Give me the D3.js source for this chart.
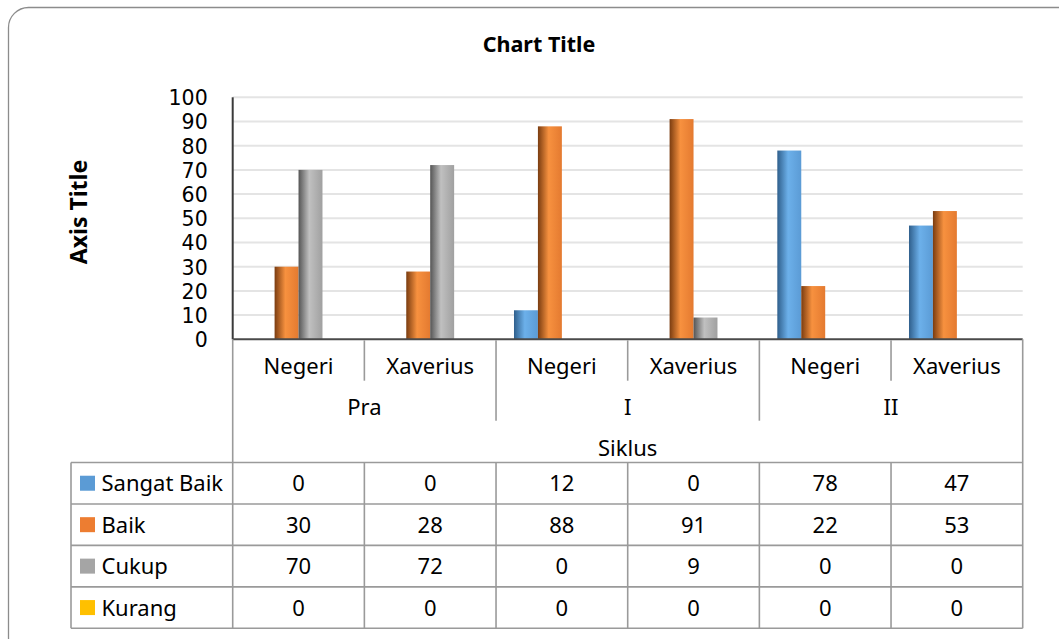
<!DOCTYPE html>
<html>
<head>
<meta charset="utf-8">
<script src="https://cdn.jsdelivr.net/npm/d3@7/dist/d3.min.js"></script>
<style>
  html, body { margin: 0; padding: 0; background: #fff; }
  svg { display: block; font-family: "Noto Sans", "Open Sans", sans-serif; }
</style>
</head>
<body>
<svg id="chart" width="1059" height="639"></svg>
<script>
// ---- data ----
const cycles = ["Pra", "I", "II"];
const schools = ["Negeri", "Xaverius"];
const seriesNames = ["Sangat Baik", "Baik", "Cukup", "Kurang"];
const sangatBaik = [0, 0, 12, 0, 78, 47];
const baik = [30, 28, 88, 91, 22, 53];
const cukup = [70, 72, 0, 9, 0, 0];
const kurang = [0, 0, 0, 0, 0, 0];
const yTicks = [0, 10, 20, 30, 40, 50, 60, 70, 80, 90, 100];
const chartTitle = "Chart Title";
const axisTitle = "Axis Title";
const axisGroupTitle = "Siklus";

(function () {
const seriesValues = [sangatBaik, baik, cukup, kurang];
const seriesColors = ["#5b9bd5", "#ed7d31", "#a5a5a5", "#ffc000"];
const gradStops = [
  ["#2f5f8c", "#6cb0ea", "#5b9bd5"],
  ["#7a3c10", "#f7913f", "#e47a30"],
  ["#555555", "#c0c0c0", "#a0a0a0"],
  ["#8a6500", "#ffd040", "#f0b400"]
];

const categories = [];
cycles.forEach(c => schools.forEach(s => categories.push({cycle: c, school: s, key: c + "|" + s})));

const svg = d3.select("#chart");
const defs = svg.append("defs");
gradStops.forEach((st, i) => {
  const g = defs.append("linearGradient").attr("id", "grad" + i)
    .attr("x1", "0%").attr("x2", "100%").attr("y1", "0%").attr("y2", "0%");
  g.append("stop").attr("offset", "0%").attr("stop-color", st[0]);
  g.append("stop").attr("offset", "45%").attr("stop-color", st[1]);
  g.append("stop").attr("offset", "100%").attr("stop-color", st[2]);
});

svg.append("rect").attr("x", 8.5).attr("y", 7.5).attr("width", 1075).attr("height", 650)
  .attr("rx", 20).attr("fill", "#fff").attr("stroke", "#8c8c8c").attr("stroke-width", 1.3);

const pLeft = 232.7, pRight = 1022.7, pTop = 97.3, pBottom = 339.3;

const x0 = d3.scaleBand().domain(categories.map(d => d.key)).range([pLeft, pRight]).padding(0);
const x1 = d3.scaleBand().domain(seriesNames).range([0, x0.bandwidth()]).paddingInner(0).paddingOuter(0.75);
const y = d3.scaleLinear().domain([0, 100]).range([pBottom, pTop]);

svg.append("g").selectAll("line").data(yTicks.filter(t => t > 0)).join("line")
  .attr("x1", pLeft).attr("x2", pRight)
  .attr("y1", d => y(d)).attr("y2", d => y(d))
  .attr("stroke", "#e4e4e4").attr("stroke-width", 2);

const yAxis = d3.axisLeft(y).tickValues(yTicks).tickSize(0).tickPadding(0);
const yg = svg.append("g").attr("transform", `translate(${pLeft - 25},0)`).call(yAxis);
yg.select(".domain").remove();
yg.selectAll("text").attr("font-size", 20.5).attr("fill", "#000")
  .attr("font-family", "'DejaVu Sans', sans-serif").attr("dy", "0.36em");

const barsG = svg.append("g");
seriesNames.forEach((s, si) => {
  barsG.append("g").selectAll("rect").data(categories.map((c, ci) => ({c, v: seriesValues[si][ci]})))
    .join("rect")
    .attr("x", d => x0(d.c.key) + x1(s))
    .attr("width", x1.bandwidth())
    .attr("y", d => y(d.v))
    .attr("height", d => y(0) - y(d.v))
    .attr("fill", `url(#grad${si})`);
});

svg.append("line").attr("x1", pLeft).attr("x2", pLeft).attr("y1", pTop).attr("y2", pBottom)
  .attr("stroke", "#3a3a3a").attr("stroke-width", 2);
svg.append("line").attr("x1", pLeft).attr("x2", pRight).attr("y1", pBottom).attr("y2", pBottom)
  .attr("stroke", "#4a4a4a").attr("stroke-width", 2);

const lineColor = "#9a9a9a";
const lbl = svg.append("g").attr("font-size", 22).attr("fill", "#000").attr("text-anchor", "middle");
lbl.selectAll("text.school").data(categories).join("text")
  .attr("class", "school")
  .attr("x", d => x0(d.key) + x0.bandwidth() / 2).attr("y", 374)
  .text(d => d.school);

const cycW = x0.bandwidth() * schools.length;
lbl.selectAll("text.cycle").data(cycles).join("text")
  .attr("class", "cycle")
  .attr("x", (d, i) => pLeft + cycW * i + cycW / 2).attr("y", 415)
  .text(d => d);
lbl.append("text").attr("x", (pLeft + pRight) / 2).attr("y", 455.5).text(axisGroupTitle);

const sepG = svg.append("g").attr("stroke", lineColor).attr("stroke-width", 1.6);
categories.forEach((c, i) => {
  if (i === 0) return;
  const xx = x0(c.key);
  const isGroup = i % schools.length === 0;
  sepG.append("line").attr("x1", xx).attr("x2", xx).attr("y1", pBottom + 1).attr("y2", isGroup ? 420.7 : 380.7);
});
sepG.append("line").attr("x1", pLeft).attr("x2", pLeft).attr("y1", pBottom).attr("y2", 628.3);
sepG.append("line").attr("x1", pRight).attr("x2", pRight).attr("y1", pBottom).attr("y2", 628.3);

const tableLeft = 71, rowTop = 462.5, rowH = 41.45;
const rowsY = d3.range(seriesNames.length + 1).map(i => rowTop + i * rowH);
rowsY.forEach(yy => {
  sepG.append("line").attr("x1", tableLeft).attr("x2", pRight).attr("y1", yy).attr("y2", yy);
});
sepG.append("line").attr("x1", tableLeft).attr("x2", tableLeft).attr("y1", rowTop).attr("y2", rowsY[rowsY.length - 1]);
categories.forEach((c, i) => {
  if (i === 0) return;
  const xx = x0(c.key);
  sepG.append("line").attr("x1", xx).attr("x2", xx).attr("y1", rowTop).attr("y2", rowsY[rowsY.length - 1]);
});

const tg = svg.append("g").attr("font-size", 22).attr("fill", "#000");
seriesNames.forEach((s, si) => {
  const cy = rowTop + si * rowH + rowH / 2;
  tg.append("rect").attr("x", 80).attr("y", cy - 7.5).attr("width", 15).attr("height", 15)
    .attr("fill", seriesColors[si]);
  tg.append("text").attr("x", 101.5).attr("y", cy + 8).text(s);
  tg.append("g").selectAll("text").data(categories).join("text")
    .attr("text-anchor", "middle")
    .attr("x", d => x0(d.key) + x0.bandwidth() / 2)
    .attr("y", cy + 8)
    .text((d, ci) => seriesValues[si][ci]);
});

svg.append("text").attr("x", 539).attr("y", 52).attr("text-anchor", "middle")
  .attr("font-size", 21.5).attr("font-weight", "bold").text(chartTitle);
svg.append("text").attr("transform", "translate(87,212) rotate(-90)").attr("text-anchor", "middle")
  .attr("font-size", 23).attr("font-weight", "bold").text(axisTitle);
})();
</script>
</body>
</html>
